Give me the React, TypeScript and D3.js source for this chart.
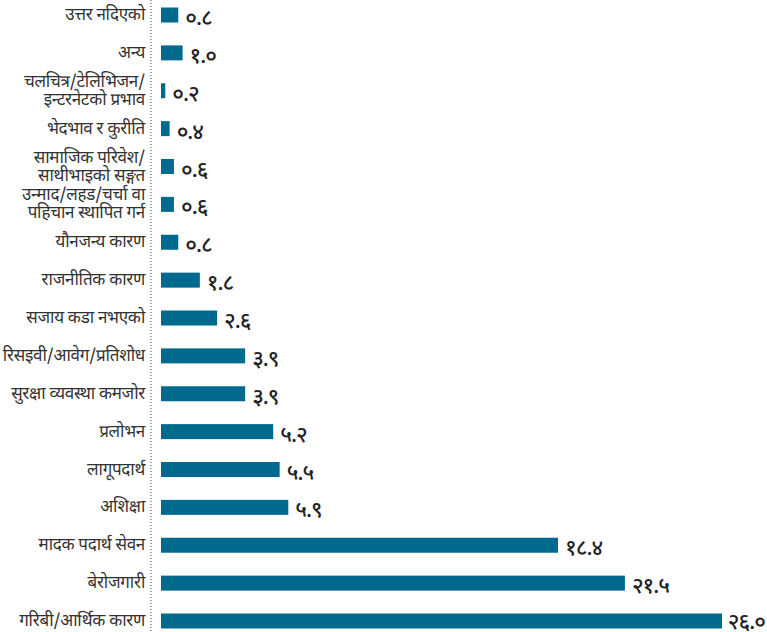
import React from "react";
import * as d3 from "d3";

const categories: string[][] = [
  ["उत्तर नदिएको"],
  ["अन्य"],
  ["चलचित्र/टेलिभिजन/", "इन्टरनेटको प्रभाव"],
  ["भेदभाव र कुरीति"],
  ["सामाजिक परिवेश/", "साथीभाइको सङ्गत"],
  ["उन्माद/लहड/चर्चा वा", "पहिचान स्थापित गर्न"],
  ["यौनजन्य कारण"],
  ["राजनीतिक कारण"],
  ["सजाय कडा नभएको"],
  ["रिसइवी/आवेग/प्रतिशोध"],
  ["सुरक्षा व्यवस्था कमजोर"],
  ["प्रलोभन"],
  ["लागूपदार्थ"],
  ["अशिक्षा"],
  ["मादक पदार्थ सेवन"],
  ["बेरोजगारी"],
  ["गरिबी/आर्थिक कारण"],
];

const values: number[] = [0.8, 1.0, 0.2, 0.4, 0.6, 0.6, 0.8, 1.8, 2.6, 3.9, 3.9, 5.2, 5.5, 5.9, 18.4, 21.5, 26.0];

const valueLabels: string[] = [
  "०.८", "१.०", "०.२", "०.४", "०.६", "०.६", "०.८", "१.८", "२.६", "३.९", "३.९", "५.२", "५.५", "५.९", "१८.४", "२१.५", "२६.०",
];

const W = 767;
const H = 632;
const FONT = "'Noto Sans Devanagari', 'Noto Sans', sans-serif";

export default function App() {
  const idx = d3.range(values.length);
  const y = d3.scalePoint<number>().domain(idx).range([15, 621]);
  const x = d3.scaleLinear().domain([0, 26]).range([161, 722]);
  const barH = 15;
  const color = "#006a8e";

  return (
    <svg
      width={W}
      height={H}
      style={{ position: "absolute", left: 0, top: 0, background: "#fff" }}
      fontFamily={FONT}
    >
      <line x1={151} x2={151} y1={0} y2={H} stroke="#444" strokeWidth={1} strokeDasharray="1,2" />
      {idx.map((i) => {
        const cy = y(i)!;
        const lines = categories[i];
        const lh = 18;
        const x0 = x(0);
        const x1 = x(values[i]);
        const last = i === values.length - 1;
        return (
          <g key={i}>
            {lines.map((t, k) => (
              <text
                key={k}
                x={145}
                y={cy + (k - (lines.length - 1) / 2) * lh}
                dy="0.3em"
                textAnchor="end"
                fontSize={17}
                letterSpacing={-0.3}
                fill="#333"
              >
                {t}
              </text>
            ))}
            <rect x={x0} y={cy - barH / 2} width={Math.max(x1 - x0, 0)} height={barH} fill={color} />
            <text
              x={last ? W - 2 : x1 + 7}
              y={last ? cy + 1 : cy + 3}
              dy="0.32em"
              textAnchor={last ? "end" : "start"}
              fontSize={22}
              fontWeight={500}
              letterSpacing={-1}
              fill="#222"
            >
              {valueLabels[i]}
            </text>
          </g>
        );
      })}
    </svg>
  );
}
